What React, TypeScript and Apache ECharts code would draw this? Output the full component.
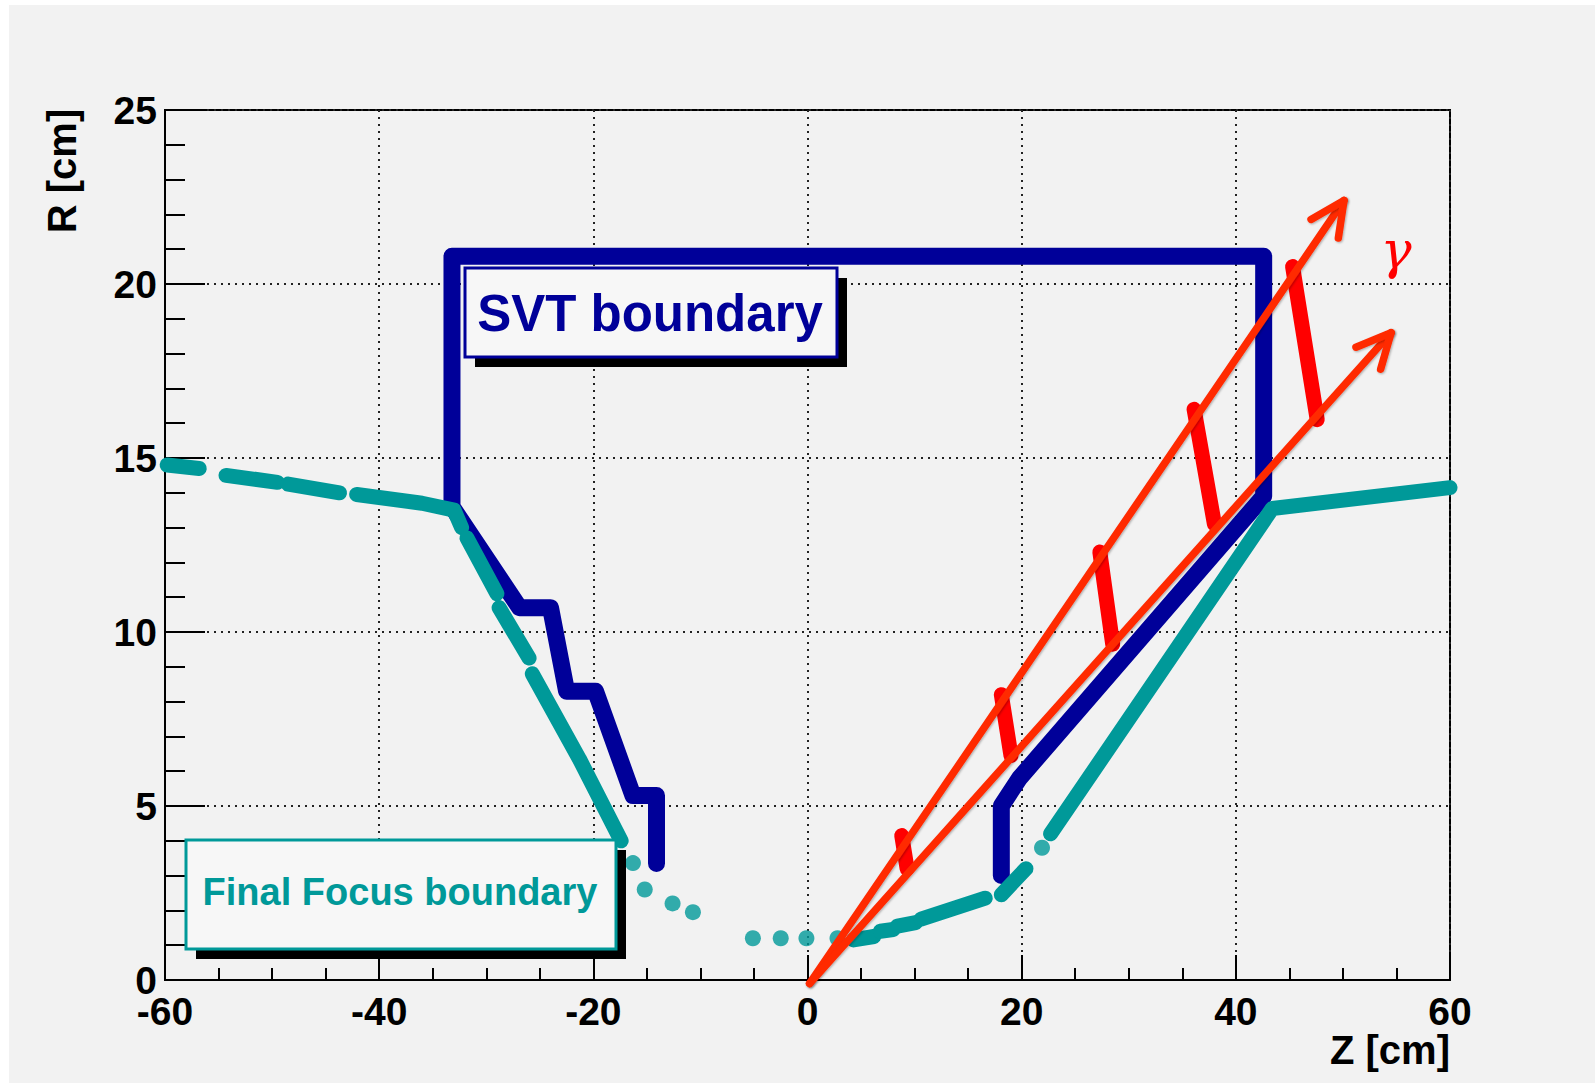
import React, { useEffect, useRef } from "react";
import * as echarts from "echarts";

// Axis ranges (Z along the beam, R radial), both in cm
const zRange = [-60, 60];
const rRange = [0, 25];

// SVT boundary outline, [Z, R]
const svtBoundary: [number, number][] = [
  [18.1, 3.0],
  [18.1, 5.0],
  [19.8, 5.8],
  [42.6, 13.9],
  [42.6, 20.8],
  [-33.2, 20.8],
  [-33.2, 13.6],
  [-26.9, 10.7],
  [-24.0, 10.7],
  [-22.5, 8.3],
  [-19.8, 8.3],
  [-16.3, 5.3],
  [-14.1, 5.3],
  [-14.1, 3.35],
];

// Final Focus boundary, drawn as separate pieces
const ffSegments: [number, number][][] = [
  [[-59.8, 14.8], [-56.8, 14.7]],
  [[-54.3, 14.5], [-49.5, 14.3]],
  [[-48.5, 14.25], [-43.7, 14.0]],
  [[-42.1, 13.95], [-36.0, 13.7], [-33.0, 13.5], [-32.3, 13.0]],
  [[-31.8, 12.7], [-29.0, 11.1]],
  [[-28.8, 10.7], [-26.0, 9.25]],
  [[-25.7, 8.8], [-21.3, 6.35], [-17.4, 4.0]],
  [[4.3, 1.15], [6.2, 1.25]],
  [[6.8, 1.4], [8.0, 1.45]],
  [[8.4, 1.55], [10.1, 1.65]],
  [[10.6, 1.75], [16.6, 2.35]],
  [[18.1, 2.45], [20.4, 3.2]],
  [[22.7, 4.2], [43.4, 13.55], [60.0, 14.15]],
];
const ffDots: [number, number][] = [
  [-16.3, 3.36],
  [-15.2, 2.6],
  [-12.6, 2.2],
  [-10.7, 1.95],
  [-5.1, 1.2],
  [-2.5, 1.2],
  [-0.1, 1.2],
  [2.8, 1.2],
  [21.9, 3.8],
];

// Shower strokes between the two photon tracks, [Z, R] start/end
const showerStrokes: [number, number][][] = [
  [[8.8, 4.15], [9.3, 3.2]],
  [[18.1, 8.2], [19.0, 6.45]],
  [[27.3, 12.3], [28.5, 9.65]],
  [[36.1, 16.4], [38.0, 13.1]],
  [[45.3, 20.5], [47.6, 16.1]],
];

// Photon tracks from the interaction point: [Z0, R0, Z1, R1]
const photonTracks: [number, number, number, number][] = [
  [0.2, -0.1, 50.1, 22.4],
  [0.2, -0.1, 54.5, 18.6],
];

const boxLabels = { svt: "SVT boundary", ff: "Final Focus boundary" };
const axisTitles = { z: "Z [cm]", r: "R [cm]" };
const photonLabel = "γ";

const NAVY = "#000099";
const TEAL = "#009999";
const RED = "#ff0000";
const ARROW = "#ff2a00";
const FONT = '"Liberation Sans", Arial, Helvetica, sans-serif';

export default function App() {
  const ref = useRef<HTMLDivElement>(null);

  useEffect(() => {
    document.body.style.margin = "0";
    if (!ref.current) return;
    const chart = echarts.init(ref.current, null, { renderer: "svg" });

    const ffSeries = ffSegments.map((seg) => ({
      type: "line",
      data: seg,
      showSymbol: false,
      silent: true,
      z: 4,
      lineStyle: { color: TEAL, width: 15, cap: "round", join: "round" },
    }));

    const strokeSeries = showerStrokes.map((seg) => ({
      type: "line",
      data: seg,
      showSymbol: false,
      silent: true,
      z: 5,
      lineStyle: { color: RED, width: 15, cap: "round", join: "round" },
    }));

    const option: any = {
      animation: false,
      backgroundColor: "transparent",
      grid: {
        left: 165,
        top: 110,
        width: 1285,
        height: 870,
        show: true,
        borderColor: "#000",
        borderWidth: 2,
        backgroundColor: "transparent",
      },
      xAxis: {
        type: "value",
        min: zRange[0],
        max: zRange[1],
        interval: 20,
        axisLine: { show: true, onZero: false, lineStyle: { color: "#000", width: 2 } },
        axisTick: { show: true, inside: true, length: 25, lineStyle: { color: "#000", width: 2 } },
        minorTick: { show: true, splitNumber: 4, length: 12, lineStyle: { color: "#000", width: 2 } },
        splitLine: { show: true, lineStyle: { color: "#222", width: 2, type: [2, 5] } },
        axisLabel: {
          color: "#000",
          fontSize: 39,
          fontWeight: "bold",
          fontFamily: FONT,
          margin: 12,
        },
      },
      yAxis: {
        type: "value",
        min: rRange[0],
        max: rRange[1],
        interval: 5,
        axisLine: { show: true, onZero: false, lineStyle: { color: "#000", width: 2 } },
        axisTick: { show: true, inside: true, length: 40, lineStyle: { color: "#000", width: 2 } },
        minorTick: { show: true, splitNumber: 5, length: 20, lineStyle: { color: "#000", width: 2 } },
        splitLine: { show: true, lineStyle: { color: "#222", width: 2, type: [2, 5] } },
        axisLabel: {
          color: "#000",
          fontSize: 39,
          fontWeight: "bold",
          fontFamily: FONT,
          margin: 8,
        },
      },
      series: [
        {
          type: "line",
          name: boxLabels.svt,
          data: svtBoundary,
          showSymbol: false,
          silent: true,
          z: 3,
          lineStyle: { color: NAVY, width: 17, cap: "round", join: "round" },
        },
        ...ffSeries,
        {
          type: "scatter",
          data: ffDots,
          symbol: "circle",
          symbolSize: 16,
          silent: true,
          z: 4,
          itemStyle: { color: TEAL },
        },
        ...strokeSeries,
        {
          type: "custom",
          data: photonTracks,
          clip: false,
          silent: true,
          z: 6,
          encode: { x: [0, 2], y: [1, 3] },
          renderItem: (_params: any, api: any) => {
            const p0 = api.coord([api.value(0), api.value(1)]);
            const p1 = api.coord([api.value(2), api.value(3)]);
            const ang = Math.atan2(p1[1] - p0[1], p1[0] - p0[0]);
            const head = 38;
            const spread = 0.45;
            const w1 = [p1[0] - head * Math.cos(ang - spread), p1[1] - head * Math.sin(ang - spread)];
            const w2 = [p1[0] - head * Math.cos(ang + spread), p1[1] - head * Math.sin(ang + spread)];
            const style = {
              stroke: ARROW,
              fill: null,
              lineWidth: 7.5,
              lineCap: "round",
              lineJoin: "round",
              shadowBlur: 2,
              shadowColor: "rgba(0,0,0,0.3)",
              shadowOffsetX: 1,
              shadowOffsetY: 1,
            };
            return {
              type: "group",
              children: [
                { type: "line", shape: { x1: p0[0], y1: p0[1], x2: p1[0], y2: p1[1] }, style },
                { type: "polyline", shape: { points: [w1, p1, w2] }, style },
              ],
            };
          },
        },
      ],
      graphic: [
        // SVT label box with drop shadow
        { type: "rect", z: 10, shape: { x: 475, y: 278, width: 372, height: 89 }, style: { fill: "#000" } },
        {
          type: "rect",
          z: 11,
          shape: { x: 465, y: 268, width: 372, height: 89 },
          style: { fill: "#f7f7f7", stroke: NAVY, lineWidth: 3 },
        },
        {
          type: "text",
          z: 12,
          x: 650,
          y: 313,
          style: {
            text: boxLabels.svt,
            fill: NAVY,
            font: `bold 51px ${FONT}`,
            align: "center",
            verticalAlign: "middle",
            textAlign: "center",
            textVerticalAlign: "middle",
          },
        },
        // Final Focus label box with drop shadow
        { type: "rect", z: 10, shape: { x: 196, y: 850, width: 430, height: 109 }, style: { fill: "#000" } },
        {
          type: "rect",
          z: 11,
          shape: { x: 186, y: 840, width: 430, height: 109 },
          style: { fill: "#f7f7f7", stroke: TEAL, lineWidth: 3 },
        },
        {
          type: "text",
          z: 12,
          x: 400,
          y: 892,
          style: {
            text: boxLabels.ff,
            fill: TEAL,
            font: `bold 38px ${FONT}`,
            align: "center",
            verticalAlign: "middle",
            textAlign: "center",
            textVerticalAlign: "middle",
          },
        },
        // Axis titles
        {
          type: "text",
          z: 12,
          x: 62,
          y: 171,
          rotation: Math.PI / 2,
          style: {
            text: axisTitles.r,
            fill: "#000",
            font: `bold 40px ${FONT}`,
            align: "center",
            verticalAlign: "middle",
            textAlign: "center",
            textVerticalAlign: "middle",
          },
        },
        {
          type: "text",
          z: 12,
          x: 1450,
          y: 1050,
          style: {
            text: axisTitles.z,
            fill: "#000",
            font: `bold 40px ${FONT}`,
            align: "right",
            verticalAlign: "middle",
            textAlign: "right",
            textVerticalAlign: "middle",
          },
        },
        // Photon symbol
        {
          type: "text",
          z: 12,
          x: 1396,
          y: 250,
          style: {
            text: photonLabel,
            fill: RED,
            font: 'italic 52px "DejaVu Serif", serif',
            align: "center",
            verticalAlign: "middle",
            textAlign: "center",
            textVerticalAlign: "middle",
          },
        },
      ],
    };

    chart.setOption(option);
    return () => chart.dispose();
  }, []);

  return (
    <div style={{ position: "relative", width: 1595, height: 1083, background: "#ffffff", overflow: "hidden" }}>
      <div style={{ position: "absolute", left: 9, top: 5, right: 0, bottom: 0, background: "#f2f2f2" }} />
      <div ref={ref} style={{ position: "absolute", left: 0, top: 0, width: 1595, height: 1083 }} />
    </div>
  );
}
